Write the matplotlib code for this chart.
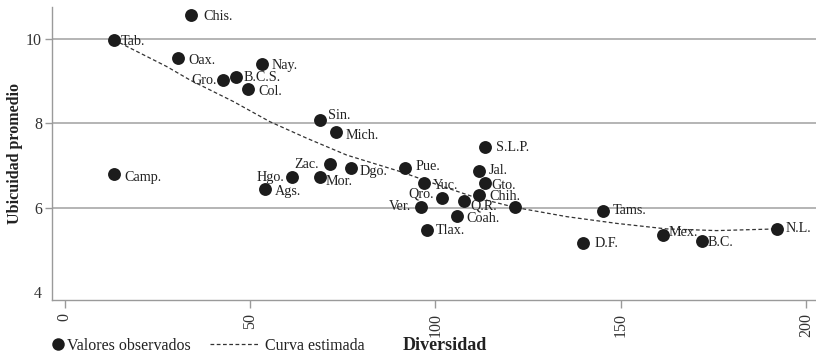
# Diversidad vs. ubicuidad promedio por entidad federativa
import matplotlib
matplotlib.use("Agg")
import matplotlib.pyplot as plt
from matplotlib.lines import Line2D

plt.rcParams["font.family"] = ["Liberation Serif", "DejaVu Serif"]

# -------------------------
# Data
# -------------------------
estados = ["Chis.", "Tab.", "Oax.", "Nay.", "Gro.", "B.C.S.", "Col.", "Sin.",
           "Mich.", "S.L.P.", "Zac.", "Dgo.", "Pue.", "Jal.", "Hgo.", "Mor.",
           "Ags.", "Camp.", "Yuc.", "Gto.", "Qro.", "Chih.", "Q.R.", "Ver.",
           "", "Coah.", "Tlax.", "Tams.", "D.F.", "Mex.", "B.C.", "N.L."]
diversidad = [34.1, 13.3, 30.5, 53.2, 42.8, 46.1, 49.4, 68.9,
              73.2, 113.5, 71.6, 77.3, 91.8, 111.8, 61.2, 68.9,
              54.0, 13.3, 97.0, 113.5, 101.8, 111.9, 107.6, 96.1,
              121.5, 105.9, 97.8, 145.1, 139.8, 161.3, 171.9, 192.1]
ubicuidad = [10.56, 9.98, 9.55, 9.41, 9.02, 9.10, 8.81, 8.08,
             7.79, 7.43, 7.03, 6.94, 6.94, 6.88, 6.72, 6.72,
             6.44, 6.80, 6.58, 6.58, 6.23, 6.31, 6.15, 6.01,
             6.01, 5.81, 5.47, 5.93, 5.16, 5.36, 5.22, 5.50]

# estimated curve, points
curva_x = [13.3, 27.5, 33.8, 45.5, 55.4, 65.3, 76.1, 90.5, 99.5,
           110.3, 121.5, 135.5, 149.0, 162.4, 175.9, 192.1]
curva_y = [9.98, 9.35, 9.03, 8.52, 8.04, 7.65, 7.25, 6.86, 6.58,
           6.26, 6.01, 5.79, 5.63, 5.50, 5.46, 5.50]

x_ticks = [0, 50, 100, 150, 200]
y_ticks = [4, 6, 8, 10]

# label offsets in points (default: right of the dot)
offsets = {
    "Chis.": (9, -1), "Tab.": (5, -1.5), "Oax.": (8, -1.5), "Nay.": (7, -1),
    "Gro.": (-4.5, 0), "B.C.S.": (5.5, 0), "Col.": (7.5, -1.5), "Sin.": (6, 3),
    "Mich.": (7, -2), "S.L.P.": (7.5, 0), "Zac.": (-8, 0), "Dgo.": (6.3, -2.4),
    "Pue.": (8, 1), "Jal.": (7, 0), "Hgo.": (-5.5, 0), "Mor.": (4.3, -3.2),
    "Ags.": (7, -1.7), "Camp.": (7.7, -2.4), "Yuc.": (6.5, -1.2),
    "Gto.": (4.6, -1.2), "Qro.": (-5.8, 3), "Chih.": (7.4, -1.2),
    "Q.R.": (4.8, -3.6), "Ver.": (-7.4, 0.7), "Coah.": (6.8, -1.9),
    "Tlax.": (6.3, 0), "Tams.": (7.2, 0.5), "D.F.": (8.1, 0),
    "Mex.": (4.3, 1.7), "B.C.": (4, -1.4), "N.L.": (6.5, 0),
}

dot_color = "#1c1c1c"
grid_color = "#b4b4b4"
axis_color = "#9a9a9a"
serif = ["Liberation Serif", "DejaVu Serif"]

# -------------------------
# Figure
# -------------------------
fig = plt.figure(figsize=(8.16, 3.56), dpi=100)
ax = fig.add_axes([51.7 / 816, 56 / 356, (816 - 51.7) / 816, 293 / 356])

ax.plot(curva_x, curva_y, linestyle=(0, (3, 2)), color="#333333",
        linewidth=0.9, zorder=2)
ax.scatter(diversidad, ubicuidad, s=86, color=dot_color, zorder=3,
           linewidths=0)

for name, xv, yv in zip(estados, diversidad, ubicuidad):
    if not name:
        continue
    dx, dy = offsets.get(name, (7, -1))
    ax.annotate(name, (xv, yv), xytext=(dx, dy), textcoords="offset points",
                ha="left" if dx > 0 else "right", va="center",
                fontsize=10.2, color="#222222", zorder=4)

ax.set_xlim(-3.5, 202.7)
ax.set_ylim(3.815, 10.76)
ax.set_xticks(x_ticks)
ax.set_yticks(y_ticks)
ax.set_xticklabels([str(v) for v in x_ticks], rotation=90, fontsize=11.5,
                   color="#333333")
ax.set_yticklabels([str(v) for v in y_ticks], fontsize=11.5, color="#333333")

ax.tick_params(axis="x", length=6, width=1, color=axis_color, pad=3.5)
ax.tick_params(axis="y", length=5, width=1, color=axis_color, pad=2)

ax.yaxis.grid(True, color=grid_color, linewidth=1.4)
ax.set_axisbelow(True)
# no gridline / tick mark at the lowest value
ax.get_ygridlines()[0].set_visible(False)
ax.yaxis.get_major_ticks()[0].tick1line.set_visible(False)

for side in ["top", "right"]:
    ax.spines[side].set_visible(False)
for side in ["left", "bottom"]:
    ax.spines[side].set_color(axis_color)
    ax.spines[side].set_linewidth(1)

ax.set_ylabel("Ubicuidad promedio", fontsize=11.5, fontweight="bold",
              color="#222222", va="center")
ax.yaxis.set_label_coords(-0.048, 0.5)
ax.set_xlabel("Diversidad", fontsize=13, fontweight="bold",
              color="#222222", va="center")
ax.xaxis.set_label_coords((445 - 51.7) / 764.3, (300 - 345) / 293)

# -------------------------
# Legend (two pieces, bottom left)
# -------------------------
h_dots = Line2D([], [], marker="o", linestyle="none", markersize=9,
                color=dot_color, markeredgewidth=0)
h_line = Line2D([], [], linestyle=(0, (3, 2)), color="#333333", linewidth=0.9)

leg_font = {"family": serif, "size": 11.5}
fig.legend([h_dots], ["Valores observados"], loc="center left",
           bbox_to_anchor=(51.2 / 816, 1 - 345.5 / 356), frameon=False,
           prop=leg_font, handlelength=0.8, handletextpad=0.2,
           borderpad=0, borderaxespad=0, labelcolor="#222222")
fig.legend([h_line], ["Curva estimada"], loc="center left",
           bbox_to_anchor=(210 / 816, 1 - 345.5 / 356), frameon=False,
           prop=leg_font, handlelength=3.05, handletextpad=0.41,
           borderpad=0, borderaxespad=0, labelcolor="#222222")

plt.savefig("out.png", dpi=100)
